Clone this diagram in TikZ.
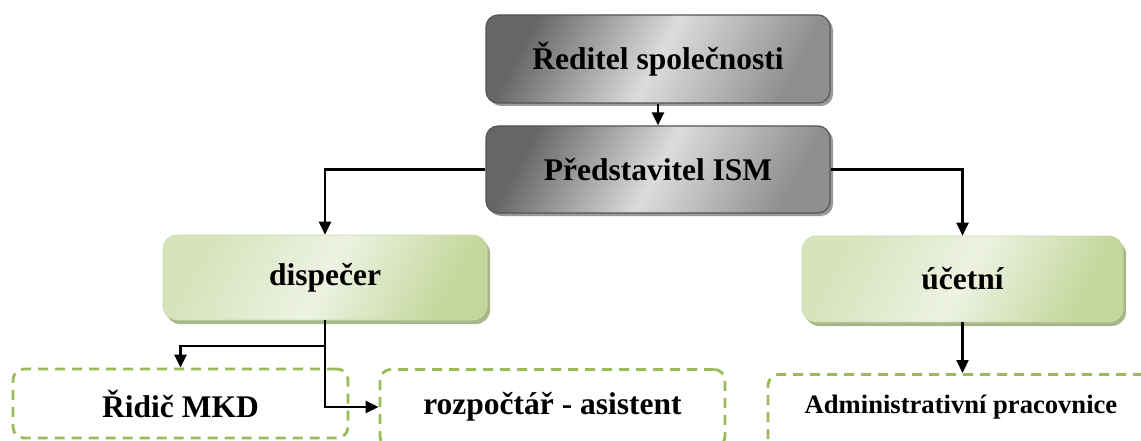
\documentclass[tikz,border=0pt]{standalone}
\usepackage{fontspec}
\setmainfont{Liberation Serif}
\usetikzlibrary{arrows.meta,shadows}
\definecolor{gdark}{HTML}{666666}
\definecolor{gmid}{HTML}{8E8E8E}
\definecolor{glight}{HTML}{DCDCDC}
\definecolor{gline}{HTML}{555555}
\definecolor{gshadow}{HTML}{999999}
\definecolor{ndark}{HTML}{C3D69B}
\definecolor{nlight}{HTML}{EDF2E2}
\definecolor{nshadow}{HTML}{A7B78A}
\definecolor{dashgreen}{HTML}{9BBB59}
\tikzset{
  graybox/.style={rounded corners=12pt, draw=gline, line width=1.2pt,
    left color=gdark, right color=gmid, middle color=glight, shading angle=62,
    drop shadow={shadow xshift=3pt,shadow yshift=-3pt,fill=gshadow,opacity=1},
    font=\bfseries\fontsize{31.5}{36}\selectfont, inner sep=0pt},
  greenbox/.style={rounded corners=14pt, draw=ndark!80!nlight, line width=0.6pt,
    left color=ndark!55!nlight, right color=ndark, middle color=nlight, shading angle=62,
    drop shadow={shadow xshift=3pt,shadow yshift=-4pt,fill=nshadow,opacity=1},
    font=\bfseries\fontsize{31.5}{36}\selectfont, inner sep=0pt},
  dashbox/.style={rounded corners=11pt, draw=dashgreen, line width=2.8pt,
    dash pattern=on 10pt off 7pt, font=\bfseries\fontsize{31.5}{36}\selectfont, inner sep=0pt},
  arr/.style={-{Triangle[length=13pt,width=12pt]}, line width=2.3pt},
  conn/.style={line width=2.3pt}
}
\begin{document}
\begin{tikzpicture}[x=1pt,y=-1pt]
\clip (0,0) rectangle (1141,441);
\fill[white] (0,0) rectangle (1141,441);
\node[graybox, minimum width=344pt, minimum height=88pt] (red) at (658,59) {Ředitel společnosti};
\node[graybox, minimum width=344pt, minimum height=87pt] (pred) at (658,169.5) {Představitel ISM};
\node[greenbox, minimum width=324pt, minimum height=85pt] (disp) at (325,277.5) {dispečer};
\node[greenbox, minimum width=321pt, minimum height=86pt] (uc) at (962.5,279) {účetní};
\node[dashbox, minimum width=335pt, minimum height=69pt] (rid) at (180.5,403.5) {Řidič MKD};
\node[dashbox, minimum width=345pt, text height=45pt, text depth=33pt, anchor=north] (roz) at (552.5,368) {rozpočtář - asistent};
\node[dashbox, minimum width=386pt, text height=39pt, text depth=46pt, anchor=north, font=\bfseries\fontsize{26.6}{30}\selectfont] (adm) at (961,373) {Administrativní pracovnice};
\coordinate (j) at (325,346);
\coordinate (k) at (325,407);
\draw[arr] (red.south) -- (pred.north);
\draw[arr] (pred.west) -| (disp.north);
\draw[arr] (pred.east) -| (uc.north);
\draw[conn] (disp.south) -- (j);
\draw[arr] (j) -| (rid.north);
\draw[arr] (j) -- (k) -- (k -| roz.west);
\draw[arr] (uc.south) -- (uc.south |- adm.north);
\end{tikzpicture}
\end{document}
